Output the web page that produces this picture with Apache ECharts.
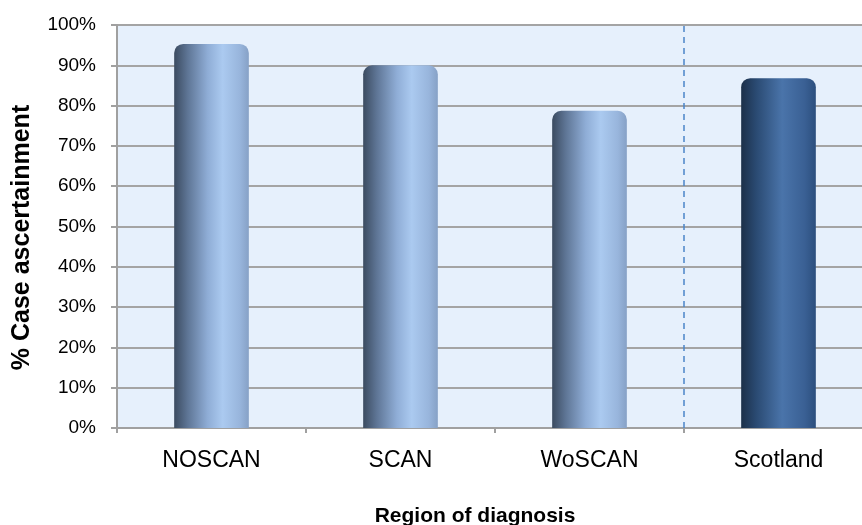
<!DOCTYPE html>
<html>
<head>
<meta charset="utf-8">
<script src="https://cdn.jsdelivr.net/npm/echarts@6/dist/echarts.min.js"></script>
<style>
html,body{margin:0;padding:0;background:#fff;overflow:hidden;}
#chart{width:862px;height:525px;}
</style>
</head>
<body>
<div id="chart"></div>
<script>
const categories = ['NOSCAN', 'SCAN', 'WoSCAN', 'Scotland'];
const values = [95.3, 90.0, 78.7, 86.8];
const yTicks = [0, 10, 20, 30, 40, 50, 60, 70, 80, 90, 100];
const dividerAt = [3, 3];      // boundary position (in category units) between WoSCAN and Scotland
const dividerSpan = [0, 100];  // % range covered by the divider

const FONT = '"Liberation Sans", Arial, sans-serif';

const lightGrad = {
  type: 'linear', x: 0, y: 0, x2: 1, y2: 0,
  colorStops: [
    {offset: 0, color: '#3b4b60'},
    {offset: 0.18, color: '#5e7595'},
    {offset: 0.45, color: '#8fadd6'},
    {offset: 0.65, color: '#abcaf0'},
    {offset: 0.88, color: '#98b5dc'},
    {offset: 1, color: '#86a1c6'}
  ]
};
const darkGrad = {
  type: 'linear', x: 0, y: 0, x2: 1, y2: 0,
  colorStops: [
    {offset: 0, color: '#1c3049'},
    {offset: 0.2, color: '#2a4a72'},
    {offset: 0.55, color: '#4a74aa'},
    {offset: 0.85, color: '#3a6094'},
    {offset: 1, color: '#2c4f7e'}
  ]
};

const chart = echarts.init(document.getElementById('chart'));
chart.setOption({
  animation: false,
  grid: {left: 117, width: 756, top: 25, height: 403, show: true, backgroundColor: '#e6f0fc', borderWidth: 0,
         outerBoundsMode: 'none', containLabel: false},
  xAxis: [{
    type: 'category',
    data: categories,
    boundaryGap: true,
    axisLine: {show: true, lineStyle: {color: '#a0a0a0', width: 2}},
    axisTick: {show: true, length: 5, lineStyle: {color: '#a0a0a0', width: 2}},
    axisLabel: {color: '#000', fontSize: 23, fontFamily: FONT, margin: 21},
    splitLine: {show: false},
    name: 'Region of diagnosis',
    nameLocation: 'middle',
    nameGap: 78,
    nameTextStyle: {color: '#000', fontSize: 21, fontWeight: 'bold', fontFamily: FONT, padding: [0, 40, 0, 0]}
  }, {
    type: 'value',
    min: 0,
    max: categories.length,
    show: false
  }],
  yAxis: [{
    type: 'value',
    min: yTicks[0],
    max: yTicks[yTicks.length - 1],
    interval: 10,
    axisLine: {show: true, lineStyle: {color: '#a0a0a0', width: 2}},
    axisTick: {show: true, inside: false, length: 6, lineStyle: {color: '#a0a0a0', width: 2}},
    axisLabel: {color: '#000', fontSize: 19, fontFamily: FONT, margin: 21, formatter: v => v + '%'},
    splitLine: {show: true, lineStyle: {color: '#a4a4a4', width: 2}},
    name: '% Case ascertainment',
    nameLocation: 'middle',
    nameGap: 82,
    nameRotate: 90,
    nameTextStyle: {color: '#000', fontSize: 25, fontWeight: 'bold', fontFamily: FONT, padding: [0, 22, 0, 0]}
  }],
  series: [{
    type: 'bar',
    xAxisIndex: 0,
    barWidth: '39.5%',
    data: values.map((v, i) => ({
      value: v,
      itemStyle: {color: i === 3 ? darkGrad : lightGrad, borderRadius: [9, 9, 0, 0]}
    }))
  }, {
    type: 'line',
    xAxisIndex: 1,
    symbol: 'none',
    silent: true,
    lineStyle: {color: '#4a84c8', width: 1.5, type: [6, 5]},
    data: dividerAt.map((x, i) => [x, dividerSpan[i]])
  }]
});
</script>
</body>
</html>
